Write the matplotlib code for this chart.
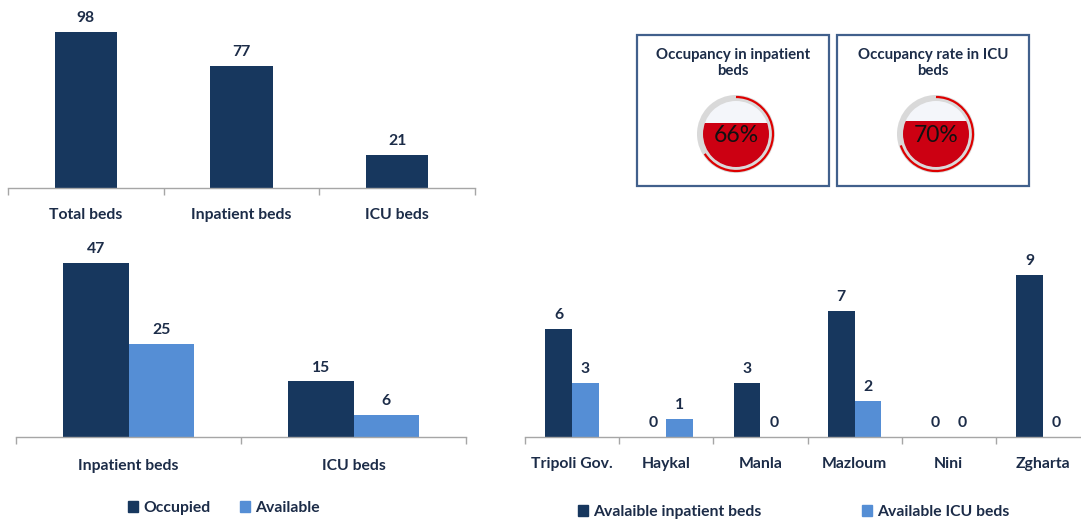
import matplotlib
matplotlib.use('Agg')
import matplotlib.pyplot as plt
from matplotlib.patches import Rectangle, Circle, Arc, Patch
import numpy as np

plt.rcParams['font.family'] = ['Lato', 'DejaVu Sans']

# ---------------- data ----------------
top_categories = ['Total beds', 'Inpatient beds', 'ICU beds']
top_values = [98, 77, 21]

occ_categories = ['Inpatient beds', 'ICU beds']
occupied = [47, 15]
available = [25, 6]

hosp_categories = ['Tripoli Gov.', 'Haykal', 'Manla', 'Mazloum', 'Nini', 'Zgharta']
avail_inpatient = [6, 0, 3, 7, 0, 9]
avail_icu = [3, 1, 0, 2, 0, 0]

gauge_titles = ['Occupancy in inpatient\nbeds', 'Occupancy rate in ICU\nbeds']
gauge_values = [0.66, 0.70]

# ---------------- style ----------------
DARK = '#17375E'
LIGHT = '#558ED5'
TXT = '#1c2c48'
AXC = '#a6a6a6'
FS = 11.3

W, H = 1081, 520
fig = plt.figure(figsize=(W / 100, H / 100), dpi=100)


def px_axes(left, top, right, bottom):
    return fig.add_axes([left / W, 1 - bottom / H, (right - left) / W, (bottom - top) / H])


def style(ax, cats, pad=12, xright=None):
    n = len(cats)
    for s in ['top', 'right', 'left']:
        ax.spines[s].set_visible(False)
    ax.spines['bottom'].set_color(AXC)
    ax.spines['bottom'].set_linewidth(1.0)
    ax.set_yticks([])
    ax.set_xticks(np.arange(n + 1) - 0.5)
    ax.set_xticklabels([])
    ax.tick_params(axis='x', which='major', length=5, color=AXC, direction='out', width=1.0)
    ax.set_xticks(np.arange(n), minor=True)
    ax.set_xticklabels(cats, minor=True, fontsize=FS, fontweight='bold', color=TXT)
    ax.tick_params(axis='x', which='minor', length=0, pad=pad)
    ax.set_xlim(-0.5, n - 0.5 if xright is None else xright)
    ax.patch.set_alpha(0)


# ---------- top-left: total beds ----------
ax1 = px_axes(8, 10, 475, 188)
x = np.arange(len(top_categories))
b = ax1.bar(x, top_values, width=0.4, color=DARK)
ax1.bar_label(b, padding=5, fontsize=FS, fontweight='bold', color=TXT)
ax1.set_ylim(0, 112)
style(ax1, top_categories, pad=14.5)

# ---------- bottom-left: occupied vs available ----------
ax2 = px_axes(16, 250, 466, 437)
x = np.arange(len(occ_categories))
w = 0.29
b1 = ax2.bar(x - w / 2, occupied, width=w, color=DARK, label='Occupied')
b2 = ax2.bar(x + w / 2, available, width=w, color=LIGHT, label='Available')
for bb in (b1, b2):
    ax2.bar_label(bb, padding=5, fontsize=FS, fontweight='bold', color=TXT)
ax2.set_ylim(0, 50.5)
style(ax2, occ_categories, pad=15.5)

# ---------- bottom-right: by hospital ----------
ax3 = px_axes(525, 250, 1081, 436.5)
x = np.arange(len(hosp_categories))
w = 0.283
b3 = ax3.bar(x - w / 2, avail_inpatient, width=w, color=DARK)
b4 = ax3.bar(x + w / 2, avail_icu, width=w, color=LIGHT)
for bb in (b3, b4):
    ax3.bar_label(bb, padding=5, fontsize=FS, fontweight='bold', color=TXT)
ax3.set_ylim(0, 10.42)
style(ax3, hosp_categories, pad=14.5, xright=5.404)

# ---------- legends ----------
leg_kw = dict(frameon=False, handlelength=0.65, handleheight=0.65, handletextpad=0.3,
              borderpad=0, borderaxespad=0, ncol=2, loc='center left',
              prop={'size': FS, 'weight': 'bold'}, labelcolor=TXT)
fig.legend([Patch(color=DARK), Patch(color=LIGHT)], ['Occupied', 'Available'],
           bbox_to_anchor=(128 / W, 1 - 508 / H), columnspacing=1.9, **leg_kw)
fig.legend([Patch(color=DARK), Patch(color=LIGHT)],
           ['Avalaible inpatient beds', 'Available ICU beds'],
           bbox_to_anchor=(578 / W, 1 - 512 / H), columnspacing=6.4, **leg_kw)

# ---------- gauges ----------
axg = fig.add_axes([0, 0, 1, 1])
axg.set_xlim(0, W)
axg.set_ylim(H, 0)
axg.axis('off')
axg.patch.set_alpha(0)

box_left = [637, 837]
for left, title, v in zip(box_left, gauge_titles, gauge_values):
    bw, bh, top = 192, 151, 35
    axg.add_patch(Rectangle((left, top), bw, bh, fill=False, ec='#41608c', lw=1.6))
    cx = left + bw / 2
    axg.text(cx, 63, title, ha='center', va='center', fontsize=10.8, fontweight='bold',
             color=TXT, linespacing=1.25)
    gx, gy = cx + 3, 134
    axg.add_patch(Circle((gx, gy), 39, fc='#d9d9d9', ec='none'))
    inner = Circle((gx, gy), 33, fc='#f4f6fa', ec='none')
    axg.add_patch(inner)
    level = gy + 33 - 66 * v
    fill = Rectangle((gx - 33, level), 66, gy + 33 - level, fc='#cc0012', ec='none')
    axg.add_patch(fill)
    fill.set_clip_path(inner)
    axg.add_patch(Arc((gx, gy), 74, 74, theta1=270, theta2=270 + 360 * v,
                      color='#dd0000', lw=1.6))
    axg.text(gx, gy + 1, f'{v:.0%}', ha='center', va='center', fontsize=16.5, color='#111111')

fig.savefig('out.png', dpi=100)
